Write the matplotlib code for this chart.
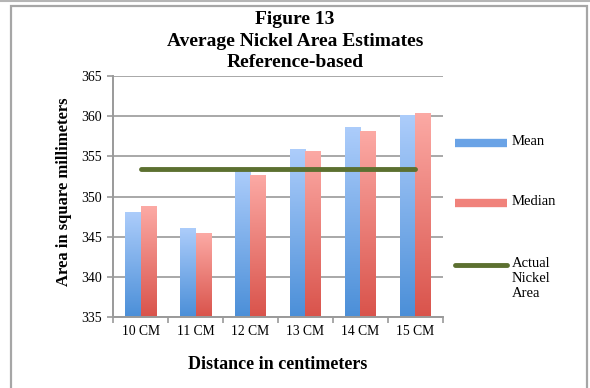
import matplotlib

matplotlib.use("Agg")
import matplotlib.pyplot as plt
import numpy as np
from matplotlib.colors import LinearSegmentedColormap
from matplotlib.lines import Line2D
from matplotlib.patches import Rectangle

distances = ["10 CM", "11 CM", "12 CM", "13 CM", "14 CM", "15 CM"]
mean_area = [348.1, 346.1, 353.4, 355.9, 358.7, 360.2]
median_area = [348.8, 345.4, 352.7, 355.7, 358.2, 360.4]
actual_area = 353.4

plt.rcParams["font.family"] = ["Liberation Serif", "DejaVu Serif"]

blue_map = LinearSegmentedColormap.from_list("blue", ["#4b8fd8", "#adcdfb"])
red_map = LinearSegmentedColormap.from_list("red", ["#d9534b", "#fcaaa5"])
green = "#5c7030"
grey = "#9a9a9a"


def shade_bars(ax, bars, cmap):
    # vertical gradient clipped to each bar
    gradient = np.linspace(0, 1, 256).reshape(-1, 1)
    for bar in bars:
        x0, y0 = bar.get_x(), bar.get_y()
        w, h = bar.get_width(), bar.get_height()
        img = ax.imshow(
            gradient,
            cmap=cmap,
            origin="lower",
            aspect="auto",
            extent=(x0, x0 + w, 335, y0 + h),
            zorder=bar.get_zorder(),
        )
        img.set_clip_path(bar)
        bar.set_facecolor("none")


fig = plt.figure(figsize=(5.9, 3.88), dpi=100)
fig.add_artist(
    Rectangle((11 / 590, -0.05), 576 / 590, 1 - 6 / 388 + 0.05,
              transform=fig.transFigure, fill=False, edgecolor="#a6a6a6",
              linewidth=1.6)
)
fig.add_artist(
    Line2D([0, 1], [1 - 1 / 388, 1 - 1 / 388], transform=fig.transFigure,
           color="#b5b5b5", linewidth=1.5)
)

ax = fig.add_axes((113 / 590, 71 / 388, 330 / 590, 241 / 388))
x = np.arange(len(distances))
width = 0.283
mean_bars = ax.bar(x - width / 2, mean_area, width, bottom=0, zorder=2)
median_bars = ax.bar(x + width / 2, median_area, width, bottom=0, zorder=2)
ax.set_ylim(335, 365)
ax.set_xlim(-0.5, len(distances) - 0.5)
shade_bars(ax, mean_bars, blue_map)
shade_bars(ax, median_bars, red_map)

ax.plot(x[[0, -1]], [actual_area, actual_area], color=green, linewidth=3.5,
        solid_capstyle="round", zorder=3)

ax.set_yticks(np.arange(335, 366, 5))
ax.set_xticks(x)
ax.set_xticklabels(distances)
ax.set_xticks(np.arange(-0.5, len(distances)), minor=True)
ax.tick_params(axis="x", which="major", length=0, pad=6, labelsize=9.8)
ax.tick_params(axis="x", which="minor", length=4, color=grey, width=1.2)
ax.tick_params(axis="y", length=4, color=grey, width=1.2, labelsize=10,
               pad=4)
ax.grid(axis="y", color=grey, linewidth=1.2, zorder=0)
ax.set_axisbelow(True)
for side in ("top", "right"):
    ax.spines[side].set_visible(False)
for side in ("left", "bottom"):
    ax.spines[side].set_color(grey)
    ax.spines[side].set_linewidth(1.4)

ax.set_xlabel("Distance in centimeters", fontsize=13, fontweight="bold",
              labelpad=13)
ax.set_ylabel("Area in square millimeters", fontsize=12, fontweight="bold")
ax.yaxis.set_label_coords(-0.125, 0.52)

fig.text(0.5, 1 - 11 / 388, "Figure 13\nAverage Nickel Area Estimates\n"
         "Reference-based", ha="center", va="top", fontsize=14,
         fontweight="bold", linespacing=1.36)

# legend drawn at fixed figure positions
legend_rows = [
    ("Mean", "#6aa3e6", 6, "butt", 143),
    ("Median", "#f0827b", 6, "butt", 203),
    ("Actual\nNickel\nArea", green, 3.5, "round", 265),
]
for label, color, lw, cap, ypix in legend_rows:
    yf = 1 - ypix / 388
    fig.add_artist(
        Line2D([455 / 590, 507 / 590], [yf, yf], transform=fig.transFigure,
               color=color, linewidth=lw, solid_capstyle=cap)
    )
    fig.text(512 / 590, yf + 8 / 388, label, ha="left", va="top",
             fontsize=10.5, linespacing=1.2)

fig.savefig("out.png", dpi=100)
